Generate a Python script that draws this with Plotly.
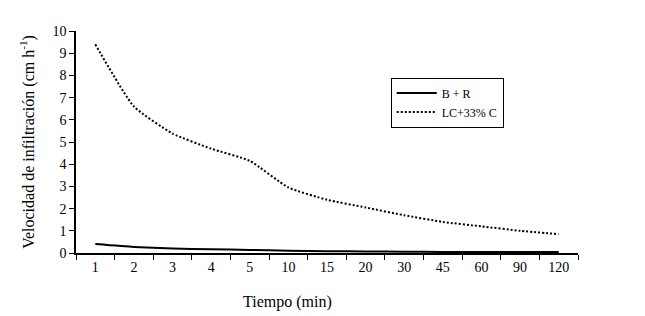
import plotly.graph_objects as go

tiempo = ["1", "2", "3", "4", "5", "10", "15", "20", "30", "45", "60", "90", "120"]
br = [0.40, 0.27, 0.20, 0.17, 0.14, 0.10, 0.08, 0.07, 0.06, 0.05, 0.05, 0.04, 0.04]
lc33 = [9.40, 6.60, 5.38, 4.70, 4.15, 2.95, 2.40, 2.05, 1.70, 1.40, 1.20, 1.00, 0.85]
yticks = list(range(0, 11))

font = "Liberation Serif, Times New Roman, serif"

fig = go.Figure()
fig.add_trace(go.Scatter(x=tiempo, y=br, mode="lines", name="B + R",
                         line=dict(color="black", width=2, shape="spline", smoothing=0.5)))
fig.add_trace(go.Scatter(x=tiempo, y=lc33, mode="lines", name="LC+33% C",
                         line=dict(color="black", width=2, dash="2px,2px", shape="spline", smoothing=0.5)))

fig.update_layout(
    width=637, height=308,
    margin=dict(l=68, r=67, t=23, b=63),
    paper_bgcolor="white", plot_bgcolor="white",
    font=dict(family=font, size=14, color="black"),
    showlegend=True,
    legend=dict(x=0.627, y=0.79, xanchor="left", yanchor="top",
                bordercolor="black", borderwidth=1, bgcolor="white",
                font=dict(size=12, family=font), tracegroupgap=0,
                itemwidth=40),
    xaxis=dict(type="category", categoryorder="array", categoryarray=tiempo,
               range=[-0.5, 12.5], showline=True, linecolor="black", linewidth=1.5,
               ticks="outside", ticklen=5, tickcolor="black", tickson="boundaries",
               showgrid=False, zeroline=False, tickfont=dict(size=14)),
    yaxis=dict(range=[0, 10], tickvals=yticks, showline=True, linecolor="black", linewidth=1.5,
               ticks="outside", ticklen=5, tickcolor="black", showgrid=False, zeroline=False,
               tickfont=dict(size=14), automargin=False,
               title=dict(text="Velocidad de infiltración (cm h<sup>-1</sup>)",
                          font=dict(size=16), standoff=14)),
    annotations=[dict(text="Tiempo (min)", x=0.422, y=-0.17, xref="paper", yref="paper",
                      xanchor="center", yanchor="top", showarrow=False, font=dict(size=16))],
)

fig.write_html("out.html")
